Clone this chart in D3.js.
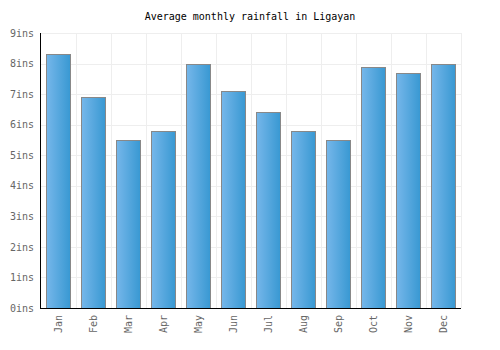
<!DOCTYPE html>
<html>
<head>
<meta charset="utf-8">
<script src="https://cdn.jsdelivr.net/npm/d3@7"></script>
<style>
  body { margin: 0; background: #fff; }
  text { font-family: "DejaVu Sans Mono", monospace; }
</style>
</head>
<body>
<div id="chart"></div>
<script>
var months = ["Jan", "Feb", "Mar", "Apr", "May", "Jun", "Jul", "Aug", "Sep", "Oct", "Nov", "Dec"];
var rainfall = [8.3, 6.9, 5.5, 5.8, 8.0, 7.1, 6.4, 5.8, 5.5, 7.9, 7.7, 8.0];
var yTicks = [0, 1, 2, 3, 4, 5, 6, 7, 8, 9];
var title = "Average monthly rainfall in Ligayan";

var w = 500, h = 350,
    margin = {top: 33, right: 39, bottom: 42, left: 41},
    width = w - margin.left - margin.right,
    height = h - margin.top - margin.bottom;

var svg = d3.select("#chart").append("svg").attr("width", w).attr("height", h);

var defs = svg.append("defs");
var grad = defs.append("linearGradient").attr("id", "barGrad")
    .attr("x1", "0%").attr("x2", "100%").attr("y1", "0%").attr("y2", "0%");
grad.append("stop").attr("offset", "0%").attr("stop-color", "#76b7ea");
grad.append("stop").attr("offset", "100%").attr("stop-color", "#3898d2");

svg.append("text")
    .attr("x", w / 2).attr("y", 20)
    .attr("text-anchor", "middle")
    .attr("font-size", 10)
    .attr("fill", "#000")
    .text(title);

var g = svg.append("g").attr("transform", "translate(" + margin.left + "," + margin.top + ")");

var x = d3.scaleBand().domain(months).range([0, width]).paddingInner(0.31).paddingOuter(0.155);
var xb = d3.scaleBand().domain(months).range([0, width]);
var y = d3.scaleLinear().domain([0, 9]).range([height, 0]);

// grid
g.append("g").selectAll("line.h").data(yTicks).enter().append("line")
    .attr("x1", 0).attr("x2", width)
    .attr("y1", function(d) { return Math.round(y(d)) + 0.5; })
    .attr("y2", function(d) { return Math.round(y(d)) + 0.5; })
    .attr("stroke", "#eeeeee");
g.append("g").selectAll("line.v").data(months).enter().append("line")
    .attr("x1", function(d) { return Math.round(xb(d) + xb.step()) + 0.5; })
    .attr("x2", function(d) { return Math.round(xb(d) + xb.step()) + 0.5; })
    .attr("y1", 0).attr("y2", height)
    .attr("stroke", "#eeeeee");

// bars
g.selectAll("rect.bar").data(rainfall).enter().append("rect")
    .attr("x", function(d, i) { return Math.round(x(months[i])) + 0.5; })
    .attr("y", function(d) { return Math.round(y(d)) + 0.5; })
    .attr("width", Math.round(x.bandwidth()))
    .attr("height", function(d) { return Math.round(height - y(d)); })
    .attr("fill", "url(#barGrad)")
    .attr("stroke", "#888888")
    .attr("stroke-width", 1);

// y axis
var yAxis = g.append("g")
    .call(d3.axisLeft(y).tickValues(yTicks).tickSize(0).tickPadding(7)
      .tickFormat(function(d) { return d + "ins"; }));
yAxis.select(".domain").remove();
yAxis.selectAll("text").attr("font-size", 10).attr("fill", "#666").attr("font-family", "DejaVu Sans Mono, monospace");

// x axis
var xAxis = g.append("g")
    .attr("transform", "translate(0," + height + ")")
    .call(d3.axisBottom(xb).tickSize(0).tickPadding(0));
xAxis.select(".domain").remove();
xAxis.selectAll("text")
    .attr("font-size", 10).attr("fill", "#666").attr("font-family", "DejaVu Sans Mono, monospace")
    .attr("text-anchor", "end")
    .attr("dy", "0.35em")
    .attr("transform", "translate(0,7) rotate(-90)")
    .attr("y", 0).attr("x", 0);

g.append("line").attr("x1", -0.5).attr("x2", -0.5).attr("y1", 0).attr("y2", height + 0.5)
    .attr("stroke", "#000");
g.append("line").attr("x1", -1).attr("x2", width).attr("y1", height + 0.5).attr("y2", height + 0.5)
    .attr("stroke", "#000");
</script>
</body>
</html>
